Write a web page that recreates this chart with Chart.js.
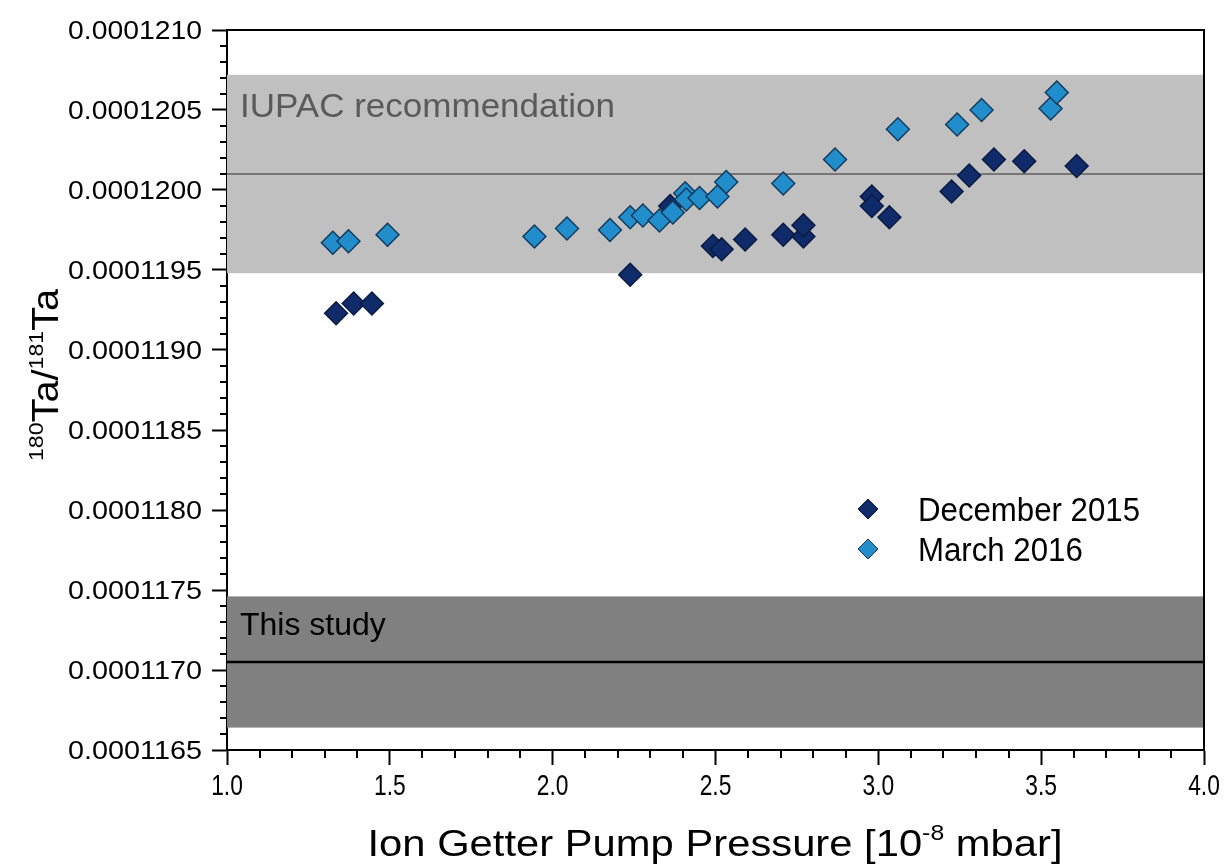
<!DOCTYPE html>
<html>
<head>
<meta charset="utf-8">
<script src="https://cdn.jsdelivr.net/npm/chart.js@4.4.1/dist/chart.umd.min.js"></script>
<style>
  html, body { margin: 0; padding: 0; background: #ffffff; }
  #wrap { width: 1227px; height: 864px; position: relative; }
</style>
</head>
<body>
<div id="wrap"><canvas id="c" width="1227" height="864"></canvas></div>
<script>
// ---- Data ----
const decX = [1.335, 1.389, 1.445, 2.238, 2.361, 2.492, 2.519, 2.591, 2.708, 2.770, 2.770, 2.980, 2.980, 3.034, 3.225, 3.279, 3.355, 3.448, 3.609];
const decY = [0.00011923, 0.00011929, 0.00011929, 0.00011947, 0.00011990, 0.00011965, 0.00011963, 0.00011969, 0.00011972, 0.00011971, 0.00011978, 0.00011996, 0.00011990, 0.00011983, 0.00011999, 0.00012009, 0.00012019, 0.00012018, 0.00012015];

const marX = [1.325, 1.373, 1.493, 1.944, 2.044, 2.176, 2.238, 2.277, 2.328, 2.369, 2.407, 2.410, 2.451, 2.506, 2.533, 2.708, 2.867, 3.060, 3.242, 3.317, 3.529, 3.548];
const marY = [0.00011967, 0.00011968, 0.00011972, 0.00011971, 0.00011976, 0.00011975, 0.00011983, 0.00011984, 0.00011981, 0.00011986, 0.00011998, 0.00011994, 0.00011995, 0.00011996, 0.00012005, 0.00012004, 0.00012019, 0.00012038, 0.00012041, 0.00012050, 0.00012051, 0.00012061];

const seriesNames = ["December 2015", "March 2016"];

// reference bands: [lower, centre, upper]
const iupacBand = [0.00011948, 0.00012010, 0.00012072];
const studyBand = [0.00011664, 0.00011705, 0.00011746];
const bandLabels = ["IUPAC recommendation", "This study"];

const xTickLabels = ["1.0", "1.5", "2.0", "2.5", "3.0", "3.5", "4.0"];
const yTickLabels = ["0.0001165", "0.0001170", "0.0001175", "0.0001180", "0.0001185", "0.0001190", "0.0001195", "0.0001200", "0.0001205", "0.0001210"];

const xTitle = ["Ion Getter Pump Pressure [10", "-8", " mbar]"];
const yTitle = [["180", true], ["Ta/", false], ["181", true], ["Ta", false]];

// ---- Styles ----
const DEC_FILL = "#0f2b6a", DEC_EDGE = "#0a1a3e";
const MAR_FILL = "#228dcb", MAR_EDGE = "#12385a";
const FONT = "'Liberation Sans', Arial, sans-serif";

const decData = decX.map((x, i) => ({ x: x, y: decY[i] }));
const marData = marX.map((x, i) => ({ x: x, y: marY[i] }));

const xMin = parseFloat(xTickLabels[0]), xMax = parseFloat(xTickLabels[xTickLabels.length - 1]);
const yMin = parseFloat(yTickLabels[0]), yMax = parseFloat(yTickLabels[yTickLabels.length - 1]);

function diamond(ctx, x, y, r, fill, edge, lw) {
  ctx.beginPath();
  ctx.moveTo(x - r, y);
  ctx.lineTo(x, y - r);
  ctx.lineTo(x + r, y);
  ctx.lineTo(x, y + r);
  ctx.closePath();
  ctx.fillStyle = fill;
  ctx.fill();
  ctx.lineWidth = lw;
  ctx.strokeStyle = edge;
  ctx.stroke();
}

function scaledText(ctx, txt, x, y, sx, align) {
  const w = ctx.measureText(txt).width * sx;
  let x0 = x;
  if (align === "center") x0 = x - w / 2;
  else if (align === "right") x0 = x - w;
  ctx.save();
  ctx.translate(x0, y);
  ctx.scale(sx, 1);
  ctx.textAlign = "left";
  ctx.fillText(txt, 0, 0);
  ctx.restore();
}

const decorPlugin = {
  id: "decor",
  beforeDatasetsDraw(chart) {
    const ctx = chart.ctx, a = chart.chartArea, ys = chart.scales.y;
    ctx.save();
    ctx.beginPath();
    ctx.rect(a.left, a.top, a.right - a.left, a.bottom - a.top);
    ctx.clip();
    // IUPAC band
    let t = ys.getPixelForValue(iupacBand[2]), b = ys.getPixelForValue(iupacBand[0]);
    ctx.fillStyle = "#c0c0c0";
    ctx.fillRect(a.left, t, a.right - a.left, b - t);
    let m = ys.getPixelForValue(iupacBand[1]);
    ctx.strokeStyle = "#5e5e5e"; ctx.lineWidth = 1.6;
    ctx.beginPath(); ctx.moveTo(a.left, m); ctx.lineTo(a.right, m); ctx.stroke();
    // Study band
    t = ys.getPixelForValue(studyBand[2]); b = ys.getPixelForValue(studyBand[0]);
    ctx.fillStyle = "#808080";
    ctx.fillRect(a.left, t, a.right - a.left, b - t);
    m = ys.getPixelForValue(studyBand[1]);
    ctx.strokeStyle = "#000000"; ctx.lineWidth = 2.6;
    ctx.beginPath(); ctx.moveTo(a.left, m); ctx.lineTo(a.right, m); ctx.stroke();
    // band labels
    ctx.textBaseline = "alphabetic";
    ctx.textAlign = "left";
    ctx.font = "33px " + FONT;
    ctx.fillStyle = "#5a5a5a";
    scaledText(ctx, bandLabels[0], a.left + 13, 117, 375 / ctx.measureText(bandLabels[0]).width, "left");
    ctx.font = "32px " + FONT;
    ctx.fillStyle = "#000000";
    ctx.fillText(bandLabels[1], a.left + 13, 635);
    ctx.restore();
  },
  afterDraw(chart) {
    const ctx = chart.ctx, a = chart.chartArea, xs = chart.scales.x, ys = chart.scales.y;
    ctx.save();
    // frame top & right
    ctx.strokeStyle = "#000"; ctx.lineWidth = 2;
    ctx.beginPath();
    ctx.moveTo(a.left, a.top); ctx.lineTo(a.right, a.top); ctx.lineTo(a.right, a.bottom);
    ctx.stroke();
    // minor ticks
    const yStep = 1e-7;
    const nY = Math.round((yMax - yMin) / yStep);
    for (let i = 0; i <= nY; i++) {
      if (i % 5 === 0) continue;
      const p = Math.round(ys.getPixelForValue(yMin + i * yStep));
      ctx.beginPath(); ctx.moveTo(a.left, p); ctx.lineTo(a.left - 7, p); ctx.stroke();
    }
    const xStep = 0.1;
    const nX = Math.round((xMax - xMin) / xStep);
    for (let i = 0; i <= nX; i++) {
      if (i % 5 === 0) continue;
      const p = Math.round(xs.getPixelForValue(xMin + i * xStep));
      ctx.beginPath(); ctx.moveTo(p, a.bottom); ctx.lineTo(p, a.bottom + 8); ctx.stroke();
    }
    // tick labels (y: wide, x: condensed, as in reference)
    ctx.fillStyle = "#000";
    ctx.textBaseline = "alphabetic";
    ctx.font = "26px " + FONT;
    yTickLabels.forEach(lbl => {
      const p = ys.getPixelForValue(parseFloat(lbl));
      scaledText(ctx, lbl, 202, p + 9.3, 134 / ctx.measureText(lbl).width, "right");
    });
    ctx.font = "30px " + FONT;
    xTickLabels.forEach(lbl => {
      const p = xs.getPixelForValue(parseFloat(lbl));
      scaledText(ctx, lbl, p, 795, 0.76, "center");
    });

    // legend
    const lx = 868, ly = [509, 549];
    diamond(ctx, lx, ly[0], 10, DEC_FILL, DEC_EDGE, 1);
    diamond(ctx, lx, ly[1], 10, MAR_FILL, MAR_EDGE, 1);
    ctx.fillStyle = "#000";
    ctx.font = "34px " + FONT;
    ctx.textBaseline = "alphabetic"; ctx.textAlign = "left";
    const lsx = 222 / ctx.measureText(seriesNames[0]).width;
    scaledText(ctx, seriesNames[0], 918, ly[0] + 12, lsx, "left");
    scaledText(ctx, seriesNames[1], 918, ly[1] + 12, lsx, "left");

    // x title (condensed)
    const big = "37px " + FONT;
    const sup = "22px " + FONT;
    ctx.font = big; const w1 = ctx.measureText(xTitle[0]).width;
    ctx.font = sup; const w2 = ctx.measureText(xTitle[1]).width;
    ctx.font = big; const w3 = ctx.measureText(xTitle[2]).width;
    const total = w1 + w2 + w3;
    const targetW = 695;
    const sx = targetW / total;
    ctx.save();
    ctx.translate(715 - targetW / 2, 856);
    ctx.scale(sx, 1);
    ctx.textBaseline = "alphabetic";
    ctx.font = big; ctx.fillText(xTitle[0], 0, 0);
    ctx.font = sup; ctx.fillText(xTitle[1], w1, -16);
    ctx.font = big; ctx.fillText(xTitle[2], w1 + w2, 0);
    ctx.restore();

    // y title (rotated)
    const ybig = "36px " + FONT;
    const ysup = "21px " + FONT;
    let widths = yTitle.map(s => { ctx.font = s[1] ? ysup : ybig; return ctx.measureText(s[0]).width; });
    const ytot = widths.reduce((p, c) => p + c, 0);
    const yTarget = 172;
    const sy = yTarget / ytot;
    ctx.save();
    ctx.translate(58, 375);
    ctx.rotate(-Math.PI / 2);
    ctx.scale(sy, 1);
    let cx = -ytot / 2;
    ctx.textBaseline = "alphabetic";
    yTitle.forEach((s, i) => {
      ctx.font = s[1] ? ysup : ybig;
      ctx.fillText(s[0], cx, s[1] ? -15 : 0);
      cx += widths[i];
    });
    ctx.restore();
    ctx.restore();
  }
};

new Chart(document.getElementById("c"), {
  type: "scatter",
  data: {
    datasets: [
      {
        label: seriesNames[1], data: marData, order: 0,
        pointStyle: "rectRot", pointRadius: 11.5, pointBorderWidth: 1.4,
        backgroundColor: MAR_FILL, borderColor: MAR_EDGE
      },
      {
        label: seriesNames[0], data: decData, order: 1,
        pointStyle: "rectRot", pointRadius: 11.5, pointBorderWidth: 1.4,
        backgroundColor: DEC_FILL, borderColor: DEC_EDGE
      }
    ]
  },
  options: {
    responsive: false,
    animation: false,
    events: [],
    layout: { padding: { left: 0, right: 23, top: 30, bottom: 0 } },
    plugins: { legend: { display: false }, tooltip: { enabled: false } },
    scales: {
      x: {
        type: "linear", min: xMin, max: xMax,
        afterFit(s) { s.height = 114; },
        afterBuildTicks(s) { s.ticks = xTickLabels.map(v => ({ value: parseFloat(v) })); },
        ticks: { display: false },
        grid: { drawOnChartArea: false, drawTicks: true, tickLength: 15, tickColor: "#000", tickWidth: 2 },
        border: { display: true, color: "#000", width: 2 }
      },
      y: {
        type: "linear", min: yMin, max: yMax,
        afterFit(s) { s.width = 227; },
        afterBuildTicks(s) { s.ticks = yTickLabels.map(v => ({ value: parseFloat(v) })); },
        ticks: { display: false },
        grid: { drawOnChartArea: false, drawTicks: true, tickLength: 15, tickColor: "#000", tickWidth: 2 },
        border: { display: true, color: "#000", width: 2 }
      }
    }
  },
  plugins: [decorPlugin]
});
</script>
</body>
</html>
